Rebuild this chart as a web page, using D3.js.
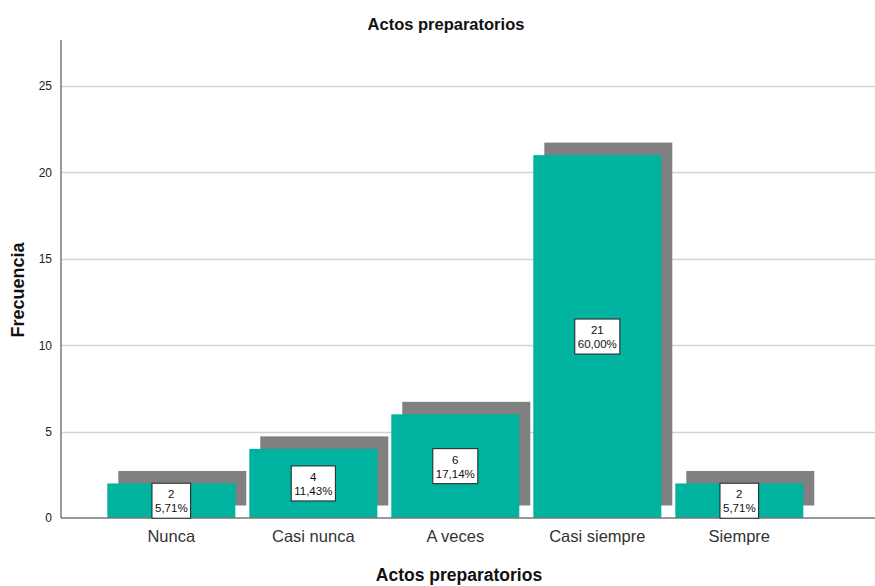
<!DOCTYPE html>
<html>
<head>
<meta charset="utf-8">
<script src="https://cdn.jsdelivr.net/npm/d3@7"></script>
<style>
  html, body { margin: 0; padding: 0; background: #fff; }
  svg { display: block; font-family: "Liberation Sans", Arial, sans-serif; }
</style>
</head>
<body>
<svg id="chart" width="875" height="586"></svg>
<script>
const categories = ["Nunca", "Casi nunca", "A veces", "Casi siempre", "Siempre"];
const frequencies = [2, 4, 6, 21, 2];
const percentLabels = ["5,71%", "11,43%", "17,14%", "60,00%", "5,71%"];
const yTicks = [0, 5, 10, 15, 20, 25];
const chartTitle = "Actos preparatorios";
const xTitle = "Actos preparatorios";
const yTitle = "Frecuencia";

const svg = d3.select("#chart");
const W = 875, H = 586;
const axisX = 61, baseY = 518, topY = 40;

const y = d3.scaleLinear().domain([0, 27.66]).range([baseY, topY]);
const x = d3.scaleBand().domain(categories)
  .range([100.3, 810.3]).paddingInner(0.0986).paddingOuter(0.0493);

// gridlines
svg.append("g").selectAll("line").data(yTicks.filter(d => d > 0)).join("line")
  .attr("x1", axisX).attr("x2", W)
  .attr("y1", d => Math.round(y(d)) + 0.5).attr("y2", d => Math.round(y(d)) + 0.5)
  .attr("stroke", "#d2d2d2").attr("stroke-width", 1.6);

// y axis
const yAxis = d3.axisLeft(y).tickValues(yTicks).tickSize(0).tickPadding(9).tickFormat(d3.format("d"));
const gy = svg.append("g").attr("transform", `translate(${axisX},0)`).call(yAxis);
gy.select(".domain").remove();
gy.selectAll("text").attr("font-size", 12).attr("fill", "#222")
  .attr("font-family", "'Liberation Sans', Arial, sans-serif");
svg.append("line").attr("x1", axisX).attr("x2", axisX).attr("y1", topY).attr("y2", baseY)
  .attr("stroke", "#999").attr("stroke-width", 2);

const data = categories.map((c, i) => ({ c, v: frequencies[i], p: percentLabels[i] }));
const dx = 11, dy = -12.5;

// shadows
svg.append("g").selectAll("rect").data(data).join("rect")
  .attr("x", d => x(d.c) + dx).attr("y", d => y(d.v) + dy)
  .attr("width", x.bandwidth()).attr("height", d => baseY - y(d.v))
  .attr("fill", "#808080");

// bars
svg.append("g").selectAll("rect").data(data).join("rect")
  .attr("x", d => x(d.c)).attr("y", d => y(d.v))
  .attr("width", x.bandwidth()).attr("height", d => baseY - y(d.v))
  .attr("fill", "#00b2a0");

// baseline
svg.append("line").attr("x1", axisX).attr("x2", W).attr("y1", baseY).attr("y2", baseY)
  .attr("stroke", "#777").attr("stroke-width", 1.5);

// x axis labels
const xAxis = d3.axisBottom(x).tickSize(0).tickPadding(12);
const gx = svg.append("g").attr("transform", `translate(0,${baseY})`).call(xAxis);
gx.select(".domain").remove();
gx.selectAll("text").attr("font-size", 16.5).attr("fill", "#333")
  .attr("font-family", "'Liberation Sans', Arial, sans-serif");

// value labels
const lg = svg.append("g").selectAll("g").data(data).join("g")
  .attr("transform", d => `translate(${x(d.c) + x.bandwidth() / 2},${y(d.v / 2)})`);
lg.each(function(d) {
  const g = d3.select(this);
  const rect = g.append("rect").attr("fill", "#fff").attr("stroke", "#222").attr("stroke-width", 1);
  const t = g.append("text").attr("text-anchor", "middle").attr("font-size", 11.5).attr("fill", "#111");
  t.append("tspan").attr("x", 0).attr("y", -2.5).text(d.v);
  t.append("tspan").attr("x", 0).attr("y", 11.5).text(d.p);
  const bb = t.node().getBBox();
  const w = bb.width + 6, h = 35;
  rect.attr("x", -w / 2).attr("y", -h / 2).attr("width", w).attr("height", h);
});

// titles
svg.append("text").attr("x", 446).attr("y", 30).attr("text-anchor", "middle")
  .attr("font-size", 16.5).attr("font-weight", "bold").attr("fill", "#111").text(chartTitle);
svg.append("text").attr("x", 459).attr("y", 581).attr("text-anchor", "middle")
  .attr("font-size", 17.5).attr("font-weight", "bold").attr("fill", "#111").text(xTitle);
svg.append("text").attr("transform", "translate(24,290) rotate(-90)").attr("text-anchor", "middle")
  .attr("font-size", 18).attr("font-weight", "bold").attr("fill", "#111").text(yTitle);
</script>
</body>
</html>
